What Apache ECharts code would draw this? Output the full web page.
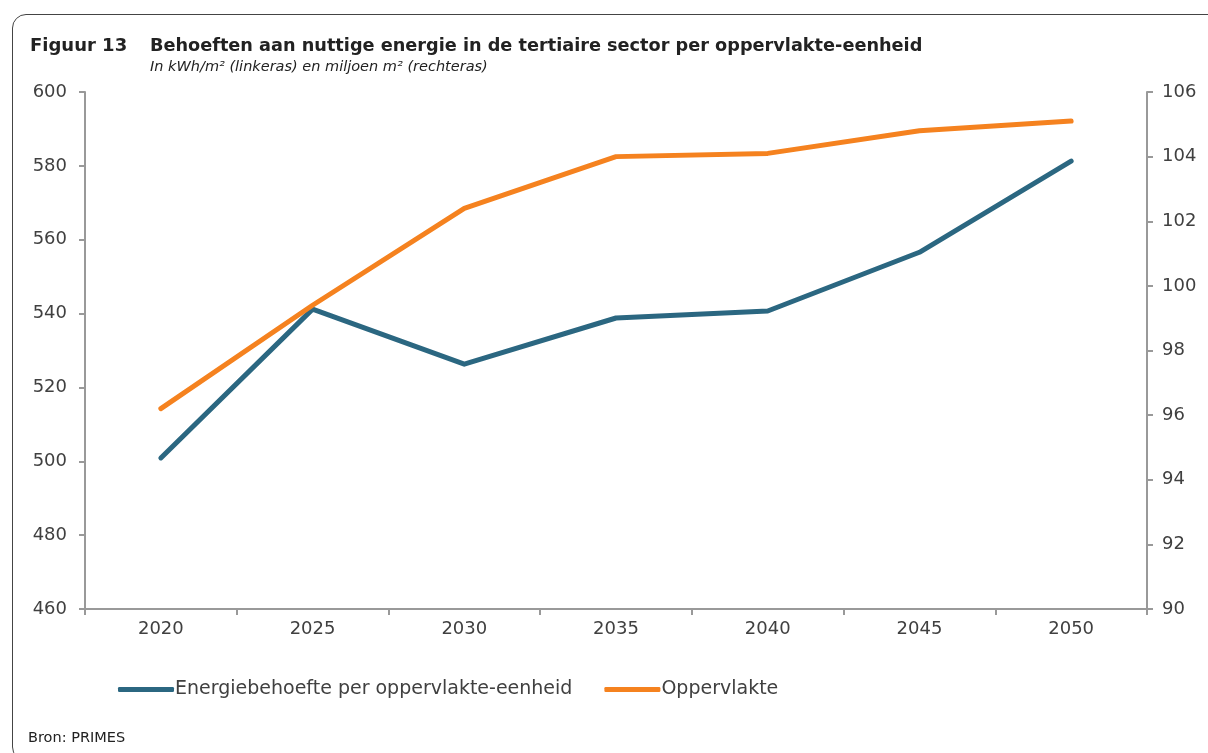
<!DOCTYPE html>
<html>
<head>
<meta charset="utf-8">
<script src="https://cdn.jsdelivr.net/npm/echarts@6/dist/echarts.min.js"></script>
<style>
  html, body { margin: 0; padding: 0; background: #fff; }
  #frame { position: absolute; left: 12px; top: 14px; width: 1230px; height: 745px;
    border: 1.5px solid #444; border-radius: 14px; }
  #chart { position: absolute; left: 0; top: 0; width: 1208px; height: 753px; }
</style>
</head>
<body>
<div id="frame"></div>
<div id="chart"></div>
<script>
// data
const years = ['2020', '2025', '2030', '2035', '2040', '2045', '2050']
const energiebehoefte = [500.9, 541.2, 526.3, 538.8, 540.7, 556.6, 581.3]
const oppervlakte = [96.2, 99.4, 102.4, 104.0, 104.1, 104.8, 105.1]

const txt = '#404040'
const axisGray = '#999999'
const font = 'DejaVu Sans'

const chart = echarts.init(document.getElementById('chart'))
chart.setOption({
  animation: false,
  textStyle: { fontFamily: font, color: txt },
  title: [
    { text: 'Figuur 13', left: 30, top: 37, padding: 0, textStyle: { fontSize: 18, fontWeight: 'bold', color: '#222', fontFamily: font } },
    { text: 'Behoeften aan nuttige energie in de tertiaire sector per oppervlakte-eenheid', left: 150, top: 37, padding: 0,
      textStyle: { fontSize: 17.7, fontWeight: 'bold', color: '#222', fontFamily: font } },
    { text: 'In kWh/m² (linkeras) en miljoen m² (rechteras)', left: 150, top: 60, padding: 0,
      textStyle: { fontSize: 14.5, fontStyle: 'italic', fontWeight: 'normal', color: '#222', fontFamily: font } },
    { text: 'Bron: PRIMES', left: 28, top: 731, padding: 0, textStyle: { fontSize: 14.5, fontWeight: 'normal', color: '#222', fontFamily: font } }
  ],
  grid: { left: 85, right: 61, top: 92, bottom: 144 },
  legend: {
    left: 113, top: 675, itemWidth: 56, itemHeight: 5, itemGap: 32, icon: 'roundRect',
    textStyle: { fontSize: 19, color: txt, padding: [0, 0, 0, -4] },
    data: ['Energiebehoefte per oppervlakte-eenheid', 'Oppervlakte']
  },
  xAxis: {
    type: 'category', data: years, boundaryGap: true,
    axisLine: { lineStyle: { color: axisGray, width: 2 } },
    axisTick: { show: true, length: 6, lineStyle: { color: axisGray, width: 2 } },
    axisLabel: { fontSize: 18, color: txt, margin: 11 }
  },
  yAxis: [
    {
      type: 'value', min: 460, max: 600, interval: 20, position: 'left',
      axisLine: { show: true, lineStyle: { color: axisGray, width: 2 } },
      axisTick: { show: true, length: 6, lineStyle: { color: axisGray, width: 2 } },
      axisLabel: { fontSize: 18, color: txt, margin: 18 },
      splitLine: { show: false }
    },
    {
      type: 'value', min: 90, max: 106, interval: 2, position: 'right',
      axisLine: { show: true, lineStyle: { color: axisGray, width: 2 } },
      axisTick: { show: true, length: 6, lineStyle: { color: axisGray, width: 2 } },
      axisLabel: { fontSize: 18, color: txt, margin: 15 },
      splitLine: { show: false }
    }
  ],
  series: [
    {
      name: 'Energiebehoefte per oppervlakte-eenheid', type: 'line', yAxisIndex: 0,
      data: energiebehoefte, symbol: 'none', color: '#2B6781',
      lineStyle: { width: 5, cap: 'round', join: 'round' }
    },
    {
      name: 'Oppervlakte', type: 'line', yAxisIndex: 1,
      data: oppervlakte, symbol: 'none', color: '#F5821F',
      lineStyle: { width: 5, cap: 'round', join: 'round' }
    }
  ]
})
</script>
</body>
</html>
